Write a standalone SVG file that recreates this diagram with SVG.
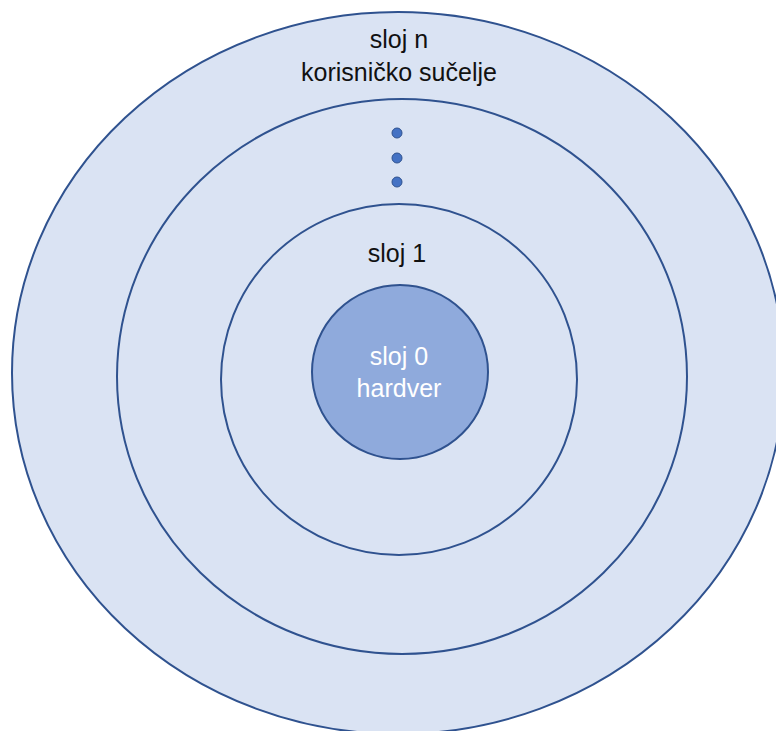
<svg xmlns="http://www.w3.org/2000/svg" width="776" height="731" viewBox="0 0 776 731">
<style>
.ring{fill:#DAE3F3;stroke:#2F528F;stroke-width:2}
.core{fill:#8FAADC;stroke:#2F528F;stroke-width:2}
.dot{fill:#4472C4;stroke:#2F528F;stroke-width:1}
text{font-family:"Liberation Sans",Arial,sans-serif;font-size:25px;text-anchor:middle}
.dark{fill:#111111}
.light{fill:#FFFFFF}
</style>
<rect width="776" height="731" fill="#FFFFFF"/>
<g id="layer-n">
<ellipse class="ring" cx="398" cy="373" rx="386" ry="361"/>
<text class="dark" x="399" y="48">sloj n</text>
<text class="dark" x="399" y="81">korisničko sučelje</text>
</g>
<g id="layer-mid">
<ellipse class="ring" cx="402" cy="376.5" rx="285" ry="277.5"/>
<circle class="dot" cx="397" cy="133" r="5"/>
<circle class="dot" cx="397" cy="158" r="5"/>
<circle class="dot" cx="397" cy="182" r="5"/>
</g>
<g id="layer-1">
<ellipse class="ring" cx="399" cy="379.5" rx="178" ry="175.5"/>
<text class="dark" x="397" y="262">sloj 1</text>
</g>
<g id="layer-0">
<ellipse class="core" cx="400" cy="372" rx="88" ry="87"/>
<text class="light" x="399" y="365">sloj 0</text>
<text class="light" x="399" y="397">hardver</text>
</g>
<g id="connectors"/>
</svg>
